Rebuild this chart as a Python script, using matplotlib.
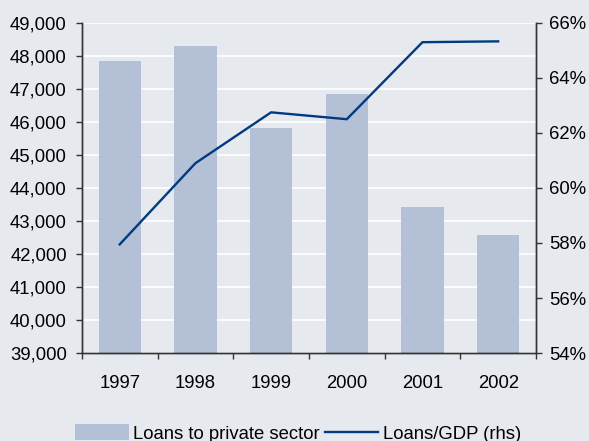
import matplotlib
matplotlib.use("Agg")
import matplotlib.pyplot as plt
import numpy as np
from matplotlib.ticker import FuncFormatter, FixedLocator

years = ["1997", "1998", "1999", "2000", "2001", "2002"]
loans = [47850, 48300, 45820, 46850, 43420, 42575]
loans_gdp = [57.95, 60.9, 62.75, 62.5, 65.3, 65.33]

bg = "#E6E9EE"
bar_color = "#B3C0D6"
line_color = "#003A80"
axis_color = "#333333"
fs = 13.3

plt.rcParams["font.family"] = ["Liberation Sans", "DejaVu Sans"]

fig = plt.figure(figsize=(5.89, 4.41), dpi=100, facecolor=bg)
ax = fig.add_axes([0.139, 0.1995, 0.771, 0.7485])
ax.set_facecolor(bg)
x = np.arange(len(years))

ax.set_ylim(39000, 49000)
ax.set_yticks(np.arange(39000, 49001, 1000))
ax.yaxis.set_major_formatter(FuncFormatter(lambda v, p: f"{int(v):,}"))
ax.grid(axis="y", color="white", linewidth=1.2)
ax.set_axisbelow(True)
ax.bar(x, [v - 39000 for v in loans], bottom=39000, width=0.56,
       color=bar_color, label="Loans to private sector", zorder=2)
ax.set_xlim(-0.5, len(years) - 0.5)
ax.set_xticks(x)
ax.set_xticklabels(years)
ax.xaxis.set_minor_locator(FixedLocator(np.arange(-0.5, len(years), 1.0)))
ax.tick_params(axis="x", which="major", length=0, pad=16, labelsize=fs)
ax.tick_params(axis="x", which="minor", length=4.3, color=axis_color, width=1)
ax.tick_params(axis="y", length=4.3, color=axis_color, width=1, labelsize=fs, pad=6.5)

ax2 = ax.twinx()
ax2.set_ylim(54, 66)
ax2.set_yticks(np.arange(54, 66.1, 2))
ax2.yaxis.set_major_formatter(FuncFormatter(lambda v, p: f"{int(v)}%"))
ax2.plot(x, loans_gdp, color=line_color, linewidth=1.7, label="Loans/GDP (rhs)", zorder=3)
ax2.tick_params(axis="y", length=4.3, color=axis_color, width=1, labelsize=fs, pad=5)

for a in (ax, ax2):
    a.spines["top"].set_visible(False)
    for s in ("left", "right", "bottom"):
        a.spines[s].set_color(axis_color)
        a.spines[s].set_linewidth(1)

h1, l1 = ax.get_legend_handles_labels()
h2, l2 = ax2.get_legend_handles_labels()
fig.legend(h1 + h2, l1 + l2, loc="center", bbox_to_anchor=(0.506, 0.017),
           ncol=2, frameon=False, fontsize=fs, handlelength=2.9,
           handleheight=0.9, handletextpad=0.25, columnspacing=0.25,
           borderpad=0, borderaxespad=0)

fig.savefig("out.png", dpi=100, facecolor=bg)
